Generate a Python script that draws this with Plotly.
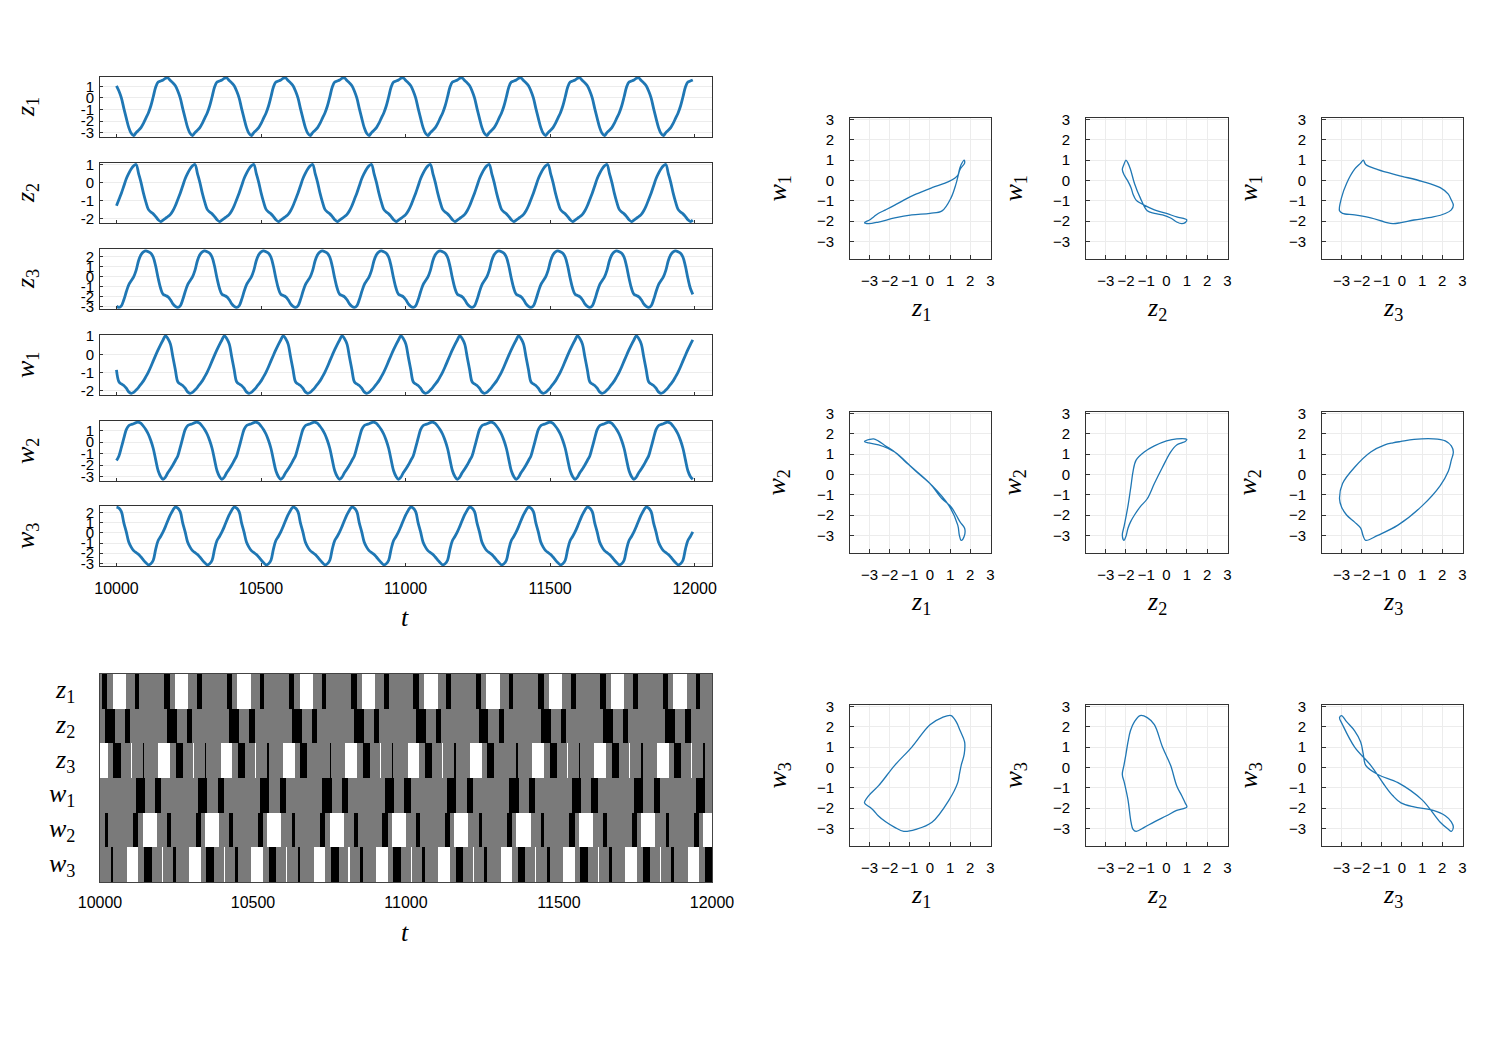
import plotly.graph_objects as go

# the page puts the figure 8 px in from the top-left corner
OFF = 8
W, H = 1494 - OFF, 1057 - OFF

# one period of the periodic orbit, 24 samples per period,
# the first sample is the maximum of z2
cycle_z1 = [-3.0, -2.8, -2.57, -2.2, -1.75, -1.3, -0.7, 0.1, 0.95, 1.38, 1.46, 1.55,
            1.7, 1.72, 1.5, 1.3, 1.05, 0.6, 0.0, -0.9, -1.75, -2.55, -3.05, -3.25]
cycle_z2 = [1.0, 0.5, 0.0, -0.6, -1.1, -1.5, -1.65, -1.75, -1.9, -2.08, -2.18, -2.1,
            -2.0, -1.9, -1.78, -1.58, -1.3, -0.95, -0.6, -0.2, 0.2, 0.5, 0.75, 0.92]
cycle_z3 = [0.6, 1.55, 2.15, 2.45, 2.55, 2.45, 2.3, 1.9, 1.0, -0.2, -1.2, -1.8,
            -1.92, -2.05, -2.35, -2.75, -3.0, -3.1, -2.95, -2.35, -1.55, -0.85, -0.45, -0.05]
cycle_w1 = [-1.95, -1.8, -1.63, -1.45, -1.22, -0.97, -0.68, -0.36, -0.05, 0.25, 0.53, 0.78,
            1.0, 0.85, 0.55, -0.15, -0.85, -1.5, -1.62, -1.7, -1.85, -2.05, -2.13, -2.08]
cycle_w2 = [1.72, 1.75, 1.65, 1.4, 1.1, 0.7, 0.15, -0.55, -1.55, -2.5, -3.0, -3.25,
            -3.05, -2.65, -2.35, -2.0, -1.6, -1.2, -0.45, 0.35, 1.1, 1.45, 1.55, 1.62]
cycle_w3 = [-1.95, -2.12, -2.38, -2.68, -2.95, -3.15, -3.05, -2.7, -1.6, -0.75, -0.35, 0.1,
            0.65, 1.25, 1.8, 2.25, 2.55, 2.45, 2.1, 1.0, 0.1, -0.9, -1.4, -1.75]

period = 203.6
first_sample = 16          # sample of the cycle that sits at t = 10000
t_first, t_last = 10000, 12000
t_ticks = [10000, 10500, 11000, 11500, 12000]

var_labels = ["<i>z</i><sub>1</sub>", "<i>z</i><sub>2</sub>", "<i>z</i><sub>3</sub>",
              "<i>w</i><sub>1</sub>", "<i>w</i><sub>2</sub>", "<i>w</i><sub>3</sub>"]
cycles = [cycle_z1, cycle_z2, cycle_z3, cycle_w1, cycle_w2, cycle_w3]

# symbolic sequence, one period: (start, end, level) with t measured from 10000
# level 0 = black, 2 = white, everything else grey
heat_z1 = [(6.5, 24.5, 0), (41.5, 85.5, 2), (114.5, 128.5, 0)]
heat_z2 = [(15.2, 47.9, 0), (81.0, 98.5, 0)]
heat_z3 = [(0.0, 25.2, 2), (43.5, 67.3, 0), (100.0, 103.2, 2), (139.5, 143.8, 0), (190.6, 203.6, 2)]
heat_w1 = [(116.6, 146.0, 0), (181.0, 200.5, 0)]
heat_w2 = [(16.3, 27.2, 0), (109.0, 125.4, 0), (139.0, 185.5, 2)]
heat_w3 = [(0.0, 1.3, 2), (34.9, 43.5, 0), (87.5, 125.4, 2), (143.8, 168.9, 0), (201.6, 203.6, 2)]
heat_rows = [heat_z1, heat_z2, heat_z3, heat_w1, heat_w2, heat_w3]

# ---- build series
n_cyc = len(cycle_z1)
dt = period / n_cyc
n = int((t_last - t_first) / dt) + 1
t = [t_first + i * dt for i in range(n)]
series = [[c[(first_sample + i) % n_cyc] for i in range(n)] for c in cycles]

heat_t = [t_first + 0.5 + k for k in range(t_last - t_first)]
heat_z = []
for segs in heat_rows:
    row = []
    for tt in heat_t:
        off = (tt - t_first) % period
        lev = 1
        for a, b, v in segs:
            if a <= off < b:
                lev = v
        row.append(lev)
    heat_z.append(row)


# positions below are screen pixels of the target picture
def px(x):
    return (x - OFF) / W


def py(y):
    return 1 - (y - OFF) / H


def xd(a, b):
    return [px(a), px(b)]


def yd(top, bottom):
    return [py(bottom), py(top)]


BLUE = "#1f77b4"
TICKFONT = dict(family="Liberation Sans, Arial, sans-serif", size=15, color="black")
LABFONT = dict(family="Liberation Serif, DejaVu Serif, serif", size=26, color="black")

fig = go.Figure()
layout = dict(width=W, height=H, autosize=False,
              margin=dict(l=0, r=0, t=0, b=0, pad=0, autoexpand=False),
              paper_bgcolor="white", plot_bgcolor="white", showlegend=False,
              font=TICKFONT)
annotations = []

# ---- time series panels
ts_boxes = [(77, 137), (163, 223), (249, 309), (335, 395), (421, 481), (506, 566)]
ts_ranges = [[-3.38, 1.81], [-2.26, 1.08], [-3.27, 2.73], [-2.22, 1.05], [-3.4, 1.86], [-3.27, 2.66]]
ts_ticks = [[1, 0, -1, -2, -3], [1, 0, -1, -2], [2, 1, 0, -1, -2, -3],
            [1, 0, -1, -2], [1, 0, -1, -2, -3], [2, 1, 0, -1, -2, -3]]

for i in range(6):
    k = i + 1
    fig.add_trace(go.Scatter(x=t, y=series[i], mode="lines", xaxis=f"x{k}", yaxis=f"y{k}",
                             line=dict(color=BLUE, width=2.8, shape="spline", smoothing=1.0),
                             hoverinfo="skip"))
    top, bot = ts_boxes[i]
    last = i == 5
    layout[f"xaxis{k}"] = dict(domain=xd(100, 712), anchor=f"y{k}", range=[9943, 12060],
                               tickvals=t_ticks, ticktext=[str(v) for v in t_ticks],
                               showticklabels=last, ticks="inside", ticklen=3, tickcolor="#333",
                               showgrid=False, zeroline=False, showline=True, mirror=True,
                               linecolor="#333", linewidth=1, automargin=False,
                               tickfont=dict(TICKFONT, size=16), ticklabelstandoff=8)
    layout[f"yaxis{k}"] = dict(domain=yd(top, bot), anchor=f"x{k}", range=ts_ranges[i],
                               tickvals=ts_ticks[i], ticktext=[str(v) for v in ts_ticks[i]],
                               ticks="inside", ticklen=3, tickcolor="#333", automargin=False,
                               showgrid=True, gridcolor="#ececec", gridwidth=1, zeroline=False,
                               showline=True, mirror=True, linecolor="#333", linewidth=1,
                               tickfont=TICKFONT, ticklabelstandoff=2)
    annotations.append(dict(text=var_labels[i], x=px(27), y=py((top + bot) / 2),
                            xref="paper", yref="paper", showarrow=False, textangle=-90,
                            font=LABFONT, xanchor="center", yanchor="middle"))

annotations.append(dict(text="<i>t</i>", x=px(405), y=py(617), xref="paper", yref="paper",
                        showarrow=False, font=LABFONT, xanchor="center", yanchor="middle"))

# ---- symbolic heatmap
fig.add_trace(go.Heatmap(x=heat_t, y=list(range(6)), z=heat_z, xaxis="x7", yaxis="y7",
                         zmin=0, zmax=2, showscale=False, hoverinfo="skip",
                         colorscale=[[0, "black"], [0.5, "#7a7a7a"], [1, "white"]]))
layout["xaxis7"] = dict(domain=xd(100, 712), anchor="y7", range=[10000, 12000],
                        tickvals=t_ticks, ticktext=[str(v) for v in t_ticks], ticks="",
                        showgrid=False, zeroline=False, showline=True, mirror=True,
                        linecolor="#444", linewidth=1, tickfont=dict(TICKFONT, size=16),
                        ticklabelstandoff=6, automargin=False)
layout["yaxis7"] = dict(domain=yd(674, 882), anchor="x7", range=[5.5, -0.5],
                        showticklabels=False, ticks="", showgrid=False, zeroline=False,
                        showline=True, mirror=True, linecolor="#444", linewidth=1,
                        automargin=False)
row_h = (882 - 674) / 6
for i in range(6):
    annotations.append(dict(text=var_labels[i], x=px(77), y=py(674 + row_h * (i + 0.5)),
                            xref="paper", yref="paper", showarrow=False, font=LABFONT,
                            xanchor="right", yanchor="middle"))
annotations.append(dict(text="<i>t</i>", x=px(405), y=py(932), xref="paper", yref="paper",
                        showarrow=False, font=LABFONT, xanchor="center", yanchor="middle"))

# ---- phase portraits, rows w1..w3, columns z1..z3
col_x = [(850, 991), (1086, 1228), (1322, 1463)]
row_y = [(118, 259), (412, 553), (705, 846)]
ylab_x = [778, 1014, 1249]
k = 8
for r in range(3):
    for c in range(3):
        xs = cycles[c] + [cycles[c][0]]
        ys = cycles[3 + r] + [cycles[3 + r][0]]
        fig.add_trace(go.Scatter(x=xs, y=ys, mode="lines", xaxis=f"x{k}", yaxis=f"y{k}",
                                 line=dict(color=BLUE, width=1.3, shape="spline", smoothing=1.0),
                                 hoverinfo="skip"))
        x0, x1 = col_x[c]
        y0, y1 = row_y[r]
        layout[f"xaxis{k}"] = dict(domain=xd(x0, x1), anchor=f"y{k}", range=[-3.97, 3.03],
                                   tickvals=[-3, -2, -1, 0, 1, 2, 3], ticks="inside", ticklen=4,
                                   tickcolor="#333", showgrid=True, gridcolor="#ececec",
                                   zeroline=False, showline=True, mirror=True, linecolor="#333",
                                   linewidth=1, tickfont=TICKFONT, ticklabelstandoff=8,
                                   automargin=False)
        layout[f"yaxis{k}"] = dict(domain=yd(y0, y1), anchor=f"x{k}", range=[-3.87, 3.07],
                                   tickvals=[-3, -2, -1, 0, 1, 2, 3], ticks="inside", ticklen=4,
                                   tickcolor="#333", showgrid=True, gridcolor="#ececec",
                                   zeroline=False, showline=True, mirror=True, linecolor="#333",
                                   linewidth=1, tickfont=TICKFONT, ticklabelstandoff=12,
                                   automargin=False)
        annotations.append(dict(text=var_labels[c], x=px((x0 + x1) / 2), y=py(y1 + 50),
                                xref="paper", yref="paper", showarrow=False, font=LABFONT,
                                xanchor="center", yanchor="middle"))
        annotations.append(dict(text=var_labels[3 + r], x=px(ylab_x[c]), y=py((y0 + y1) / 2),
                                xref="paper", yref="paper", showarrow=False, font=LABFONT,
                                textangle=-90, xanchor="center", yanchor="middle"))
        k += 1

layout["annotations"] = annotations
fig.update_layout(**layout)
fig.write_html("out.html")
